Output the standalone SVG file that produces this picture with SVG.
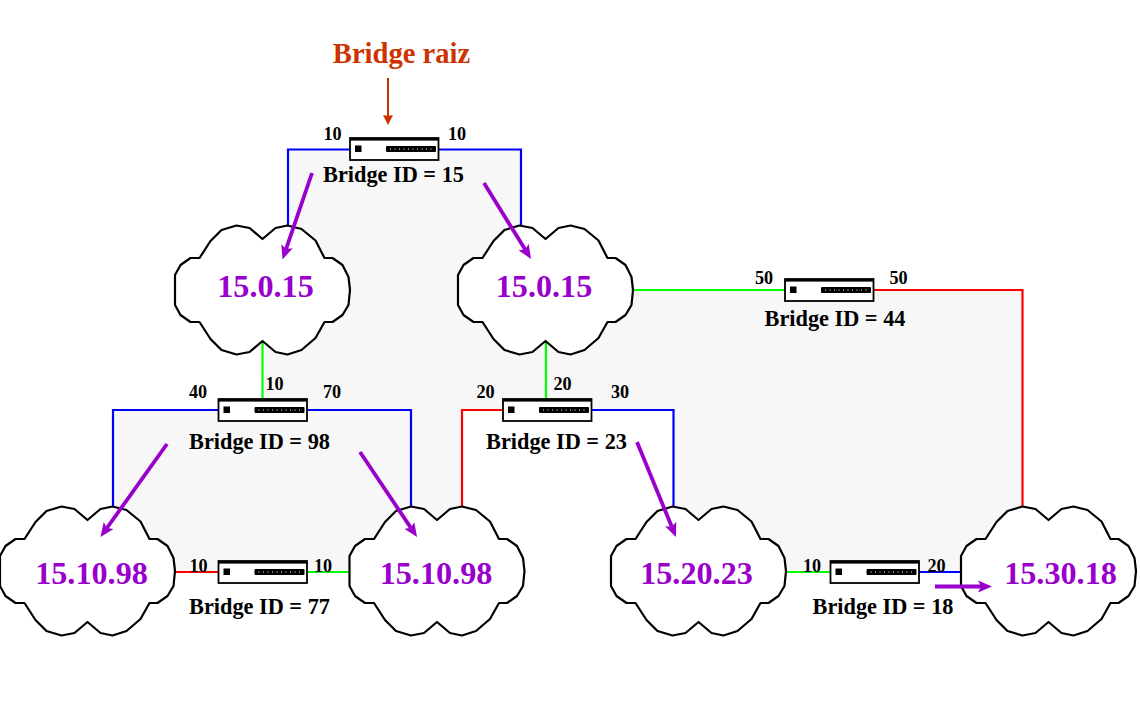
<svg xmlns="http://www.w3.org/2000/svg" xmlns:xlink="http://www.w3.org/1999/xlink" width="1140" height="719" viewBox="0 0 1140 719">
<style>
text{font-family:"Liberation Serif","Times New Roman",serif;font-weight:bold;text-anchor:middle}
.port{font-size:18.200px;fill:#000}
.id{font-size:22.300px;fill:#000}
.net{font-size:32.200px;fill:#9900cc}
.title{font-size:28.600px;fill:#cc3300}
.wire{fill:none;stroke-width:2.200}
.b{stroke:#0000ff}.g{stroke:#00ff00}.r{stroke:#ff0000}
.cloud{fill:#fff;stroke:#000;stroke-width:2.200;stroke-linejoin:round}
.sw{fill:#fff;stroke:#000;stroke-width:1.800}
.path{stroke:#9900cc;stroke-width:3.800;fill:none;marker-end:url(#pa)}
</style>
<defs>
<marker id="pa" markerUnits="userSpaceOnUse" markerWidth="16" markerHeight="14" refX="3" refY="6.500" orient="auto"><path d="M0,0.500 L14,6.500 L0,12.500 L3,6.500z" fill="#9900cc"/></marker>
<marker id="ra" markerUnits="userSpaceOnUse" markerWidth="12" markerHeight="11" refX="1" refY="5.500" orient="auto"><path d="M0,0.500 L10,5.500 L0,10.500 L1,5.500z" fill="#cc3300"/></marker>
<path id="cl" class="cloud" d="M0,-51 L13,-62 L25,-64.500 L39,-61 L53,-49.500 L62,-32 L70,-32 L80,-25 L86,-13 L87.500,0 L86,15 L80,25 L70,32 L62,32 L53,48 L39,60 L25,64.500 L13,62 L0,51 L-13,62 L-26,64.500 L-41,60 L-52,49 L-63,32 L-72,32 L-82,25 L-87.500,15 L-87.500,-15 L-82,-25 L-72,-32 L-63,-32 L-52,-49 L-41,-60 L-26,-64.500 L-13,-62 Z"/>
<g id="swi">
<rect class="sw" x="0" y="0" width="88.500" height="22"/>
<rect x="0" y="0" width="88.500" height="2.600" fill="#000"/>
<rect x="5" y="7.500" width="6.500" height="6.500" fill="#000"/>
<rect x="36" y="8" width="50" height="6" rx="1" fill="#000"/>
<path d="M40,11H84" stroke="#fff" stroke-width="1" stroke-dasharray="1 3.500" fill="none"/>
</g>
</defs>
<path id="backbone" fill="#f7f7f7" d="M288,150 H521 V290 H1022.500 V572 H673.500 V410 H462 V572 H113 V410 H262 V290 H288 Z"/>
<g id="connectors">
<path class="wire b" d="M288,230 V149.500 H350"/>
<path class="wire b" d="M438,149.500 H521 V230"/>
<path class="wire g" d="M262.500,340 V399"/>
<path class="wire g" d="M546,340 V399"/>
<path class="wire g" d="M630,290 H785"/>
<path class="wire r" d="M874,290 H1022.500 V510"/>
<path class="wire b" d="M218,410 H113 V510"/>
<path class="wire b" d="M307,410 H411 V510"/>
<path class="wire r" d="M503,410 H462 V510"/>
<path class="wire b" d="M592,410 H673.500 V510"/>
<path class="wire r" d="M172,572 H218"/>
<path class="wire g" d="M307,572 H352"/>
<path class="wire g" d="M784,572 H830"/>
<path class="wire b" d="M919,572 H963"/>
</g>
<g id="cloud-a"><use xlink:href="#cl" href="#cl" x="262.500" y="290"/><text class="net" x="265.500" y="297">15.0.15</text></g>
<g id="cloud-b"><use xlink:href="#cl" href="#cl" x="545.500" y="290"/><text class="net" x="544" y="297">15.0.15</text></g>
<g id="cloud-c"><use xlink:href="#cl" href="#cl" x="87.500" y="571"/><text class="net" x="91.500" y="584">15.10.98</text></g>
<g id="cloud-d"><use xlink:href="#cl" href="#cl" x="437" y="571"/><text class="net" x="436" y="584">15.10.98</text></g>
<g id="cloud-e"><use xlink:href="#cl" href="#cl" x="698.500" y="571"/><text class="net" x="696.500" y="584">15.20.23</text></g>
<g id="cloud-f"><use xlink:href="#cl" href="#cl" x="1048.500" y="571"/><text class="net" x="1060.500" y="584">15.30.18</text></g>
<g id="bridge-15"><use xlink:href="#swi" href="#swi" x="350" y="138"/><text class="port" x="332.500" y="140">10</text><text class="port" x="457" y="140">10</text><text class="id" x="393.500" y="182">Bridge ID = 15</text></g>
<g id="bridge-44"><use xlink:href="#swi" href="#swi" x="785" y="279"/><text class="port" x="764" y="284">50</text><text class="port" x="898.500" y="284">50</text><text class="id" x="835" y="326">Bridge ID = 44</text></g>
<g id="bridge-98"><use xlink:href="#swi" href="#swi" x="218.500" y="399"/><text class="port" x="198" y="398">40</text><text class="port" x="274.500" y="390">10</text><text class="port" x="332" y="398">70</text><text class="id" x="259.500" y="449">Bridge ID = 98</text></g>
<g id="bridge-23"><use xlink:href="#swi" href="#swi" x="503" y="399"/><text class="port" x="485.500" y="398">20</text><text class="port" x="562.500" y="390">20</text><text class="port" x="620" y="398">30</text><text class="id" x="556.500" y="449">Bridge ID = 23</text></g>
<g id="bridge-77"><use xlink:href="#swi" href="#swi" x="218.500" y="561"/><text class="port" x="198.500" y="572">10</text><text class="port" x="323" y="572">10</text><text class="id" x="259.500" y="614">Bridge ID = 77</text></g>
<g id="bridge-18"><use xlink:href="#swi" href="#swi" x="830.500" y="561"/><text class="port" x="812" y="572">10</text><text class="port" x="936.500" y="572">20</text><text class="id" x="883" y="614">Bridge ID = 18</text></g>
<g id="root-label"><text class="title" x="401.500" y="63">Bridge raiz</text><path d="M388,78 V116" stroke="#cc3300" stroke-width="2" fill="none" marker-end="url(#ra)"/></g>
<g id="paths">
<path class="path" d="M312,173 L286.050,249.100"/>
<path class="path" d="M484,183 L525.200,249.600"/>
<path class="path" d="M167,444 L106.900,528"/>
<path class="path" d="M360,452 L410.900,527.900"/>
<path class="path" d="M637,442 L671.800,526.800"/>
<path class="path" d="M935,586.500 L981,586.500"/>
</g>
</svg>
